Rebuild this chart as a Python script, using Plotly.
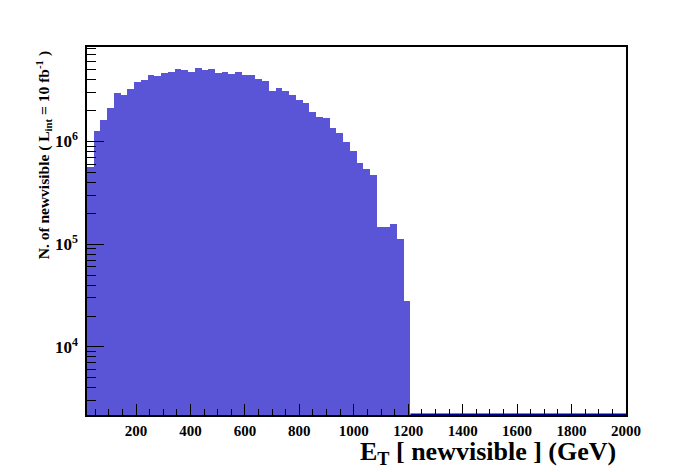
import plotly.graph_objects as go

# Histogram: 80 bins from 20 to 2000 GeV
x_min = 20.0
x_max = 2000.0
n_bins = 80
counts = [
    5.66e5, 1.27e6, 1.61e6, 2.11e6, 2.97e6, 2.82e6, 3.23e6, 3.78e6, 3.95e6, 4.45e6,
    4.32e6, 4.62e6, 4.73e6, 5.06e6, 4.94e6, 4.73e6, 5.17e6, 4.94e6, 5.06e6, 4.62e6,
    4.73e6, 4.52e6, 4.73e6, 4.42e6, 4.42e6, 4.05e6, 3.86e6, 3.09e6, 3.30e6, 3.09e6,
    2.82e6, 2.52e6, 2.36e6, 1.93e6, 1.72e6, 1.69e6, 1.35e6, 1.20e6, 9.84e5, 8.05e5,
    6.15e5, 5.38e5, 4.70e5, 1.47e5, 1.47e5, 1.57e5, 1.13e5, 2.79e4,
] + [0.0] * 32

x_tick_vals = [200, 400, 600, 800, 1000, 1200, 1400, 1600, 1800, 2000]
x_tick_text = ["200", "400", "600", "800", "1000", "1200", "1400", "1600", "1800", "2000"]
y_tick_vals = [1e4, 1e5, 1e6]
y_tick_text = ["10<sup>4</sup>", "10<sup>5</sup>", "10<sup>6</sup>"]
y_range_log = [3.338, 6.918]

width = (x_max - x_min) / n_bins
centers = [x_min + (i + 0.5) * width for i in range(n_bins)]

fill_color = "#5a55d7"
line_color = "#000090"
font_family = "Liberation Serif"

fig = go.Figure()
fig.add_trace(go.Bar(
    x=centers, y=counts, width=width,
    marker=dict(color=fill_color, line=dict(width=0)),
    showlegend=False, hoverinfo="x+y",
))

# outline of empty bins along the bottom
first_empty = next(i for i, c in enumerate(counts) if c == 0)
fig.add_shape(type="line", xref="x", yref="paper",
              x0=x_min + first_empty * width, x1=x_max, y0=0.002, y1=0.002,
              line=dict(color=line_color, width=1.5))

y_minor = []
for dec in range(3, 7):
    for m in range(2, 10):
        v = m * 10 ** dec
        if 10 ** y_range_log[0] <= v <= 10 ** y_range_log[1]:
            y_minor.append(v)

fig.update_layout(
    width=696, height=472,
    margin=dict(l=87, r=70, t=47, b=57),
    paper_bgcolor="white", plot_bgcolor="white",
    bargap=0,
    font=dict(family=font_family, color="black"),
    xaxis=dict(
        range=[x_min, x_max],
        tickmode="array", tickvals=x_tick_vals, ticktext=x_tick_text,
        ticks="inside", ticklen=11, tickwidth=1, tickcolor="black",
        minor=dict(tickmode="linear", tick0=0, dtick=50, ticks="inside",
                   ticklen=6, tickwidth=1, tickcolor="black", showgrid=False),
        showline=True, linecolor="black", linewidth=1.5, mirror=True,
        showgrid=False, zeroline=False,
        tickfont=dict(family=font_family, size=15, weight="bold"),
        ticklabelstandoff=1,
    ),
    yaxis=dict(
        type="log", range=y_range_log,
        tickmode="array", tickvals=y_tick_vals, ticktext=y_tick_text,
        ticks="inside", ticklen=17, tickwidth=1, tickcolor="black",
        minor=dict(tickmode="array", tickvals=y_minor, ticks="inside",
                   ticklen=9, tickwidth=1, tickcolor="black", showgrid=False),
        showline=True, linecolor="black", linewidth=1.5, mirror=True,
        showgrid=False, zeroline=False,
        tickfont=dict(family=font_family, size=17, weight="bold"),
        ticklabelstandoff=4,
    ),
)

fig.add_annotation(
    text="E<sub>T</sub> [ newvisible ] (GeV)",
    xref="paper", yref="paper", x=(618 - 87) / 539, y=(414.7 - 453) / 368,
    xanchor="right", yanchor="middle", showarrow=False,
    font=dict(family=font_family, size=26, weight="bold", color="black"),
)
fig.add_annotation(
    text="N. of newvisible ( L<sub>int</sub> = 10 fb<sup>-1</sup> )",
    xref="paper", yref="paper", x=(44 - 87) / 539, y=(414.7 - 49) / 368,
    xanchor="center", yanchor="top", textangle=-90, showarrow=False,
    font=dict(family=font_family, size=15.5, weight="bold", color="black"),
)

fig.write_html("out.html", config={"displayModeBar": False},
               post_script="document.body.style.margin='0px';")
